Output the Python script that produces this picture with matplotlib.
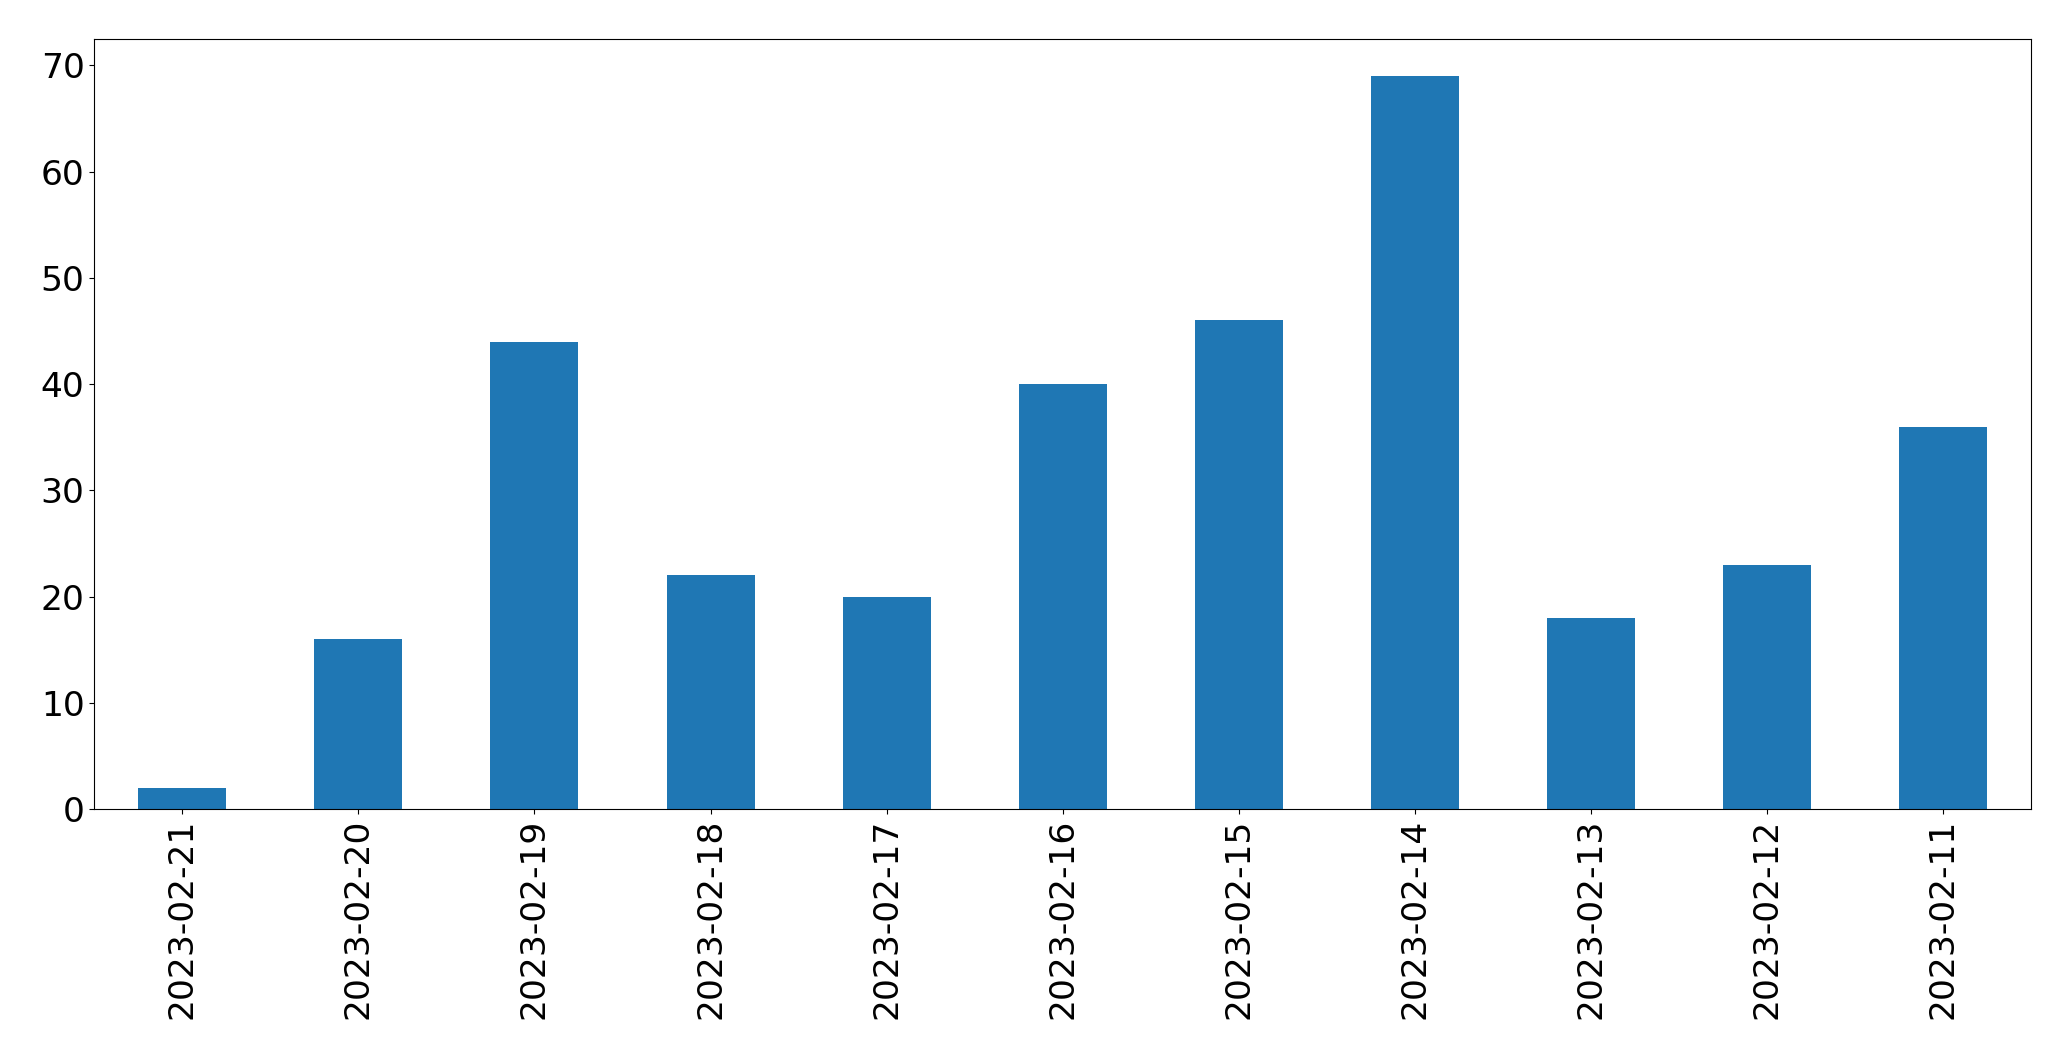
import matplotlib
matplotlib.use("Agg")
import matplotlib.pyplot as plt
import numpy as np

dates = ["2023-02-21", "2023-02-20", "2023-02-19", "2023-02-18", "2023-02-17",
         "2023-02-16", "2023-02-15", "2023-02-14", "2023-02-13", "2023-02-12", "2023-02-11"]
counts = [2, 16, 44, 22, 20, 40, 46, 69, 18, 23, 36]

fig = plt.figure(figsize=(20.71, 10.61), dpi=100)
ax = fig.add_axes([0.0455, 0.2372, 0.9353, 0.7258])
x = np.arange(len(dates))
ax.bar(x, counts, width=0.5, color="#1f77b4")
ax.set_xlim(-0.5, len(dates) - 0.5)
ax.set_ylim(0, max(counts) * 1.05)
ax.set_xticks(x)
ax.set_xticklabels(dates, rotation=90)
ax.tick_params(axis="both", labelsize=24.8)
fig.savefig("out.png", dpi=100)
